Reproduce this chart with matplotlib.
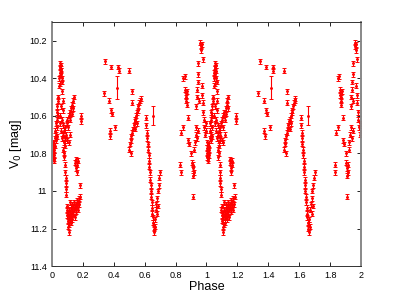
import matplotlib
matplotlib.use('Agg')
import matplotlib.pyplot as plt
from matplotlib.ticker import FuncFormatter

# one cycle of the light curve, plotted twice (phase and phase + 1)
phase = [
    0.002, 0.004, 0.006, 0.008, 0.010, 0.012, 0.014, 0.016, 0.018, 0.020, 0.005, 0.011,
    0.022, 0.025, 0.027, 0.030, 0.032, 0.034, 0.036, 0.038, 0.040, 0.042, 0.028, 0.035,
    0.046, 0.048, 0.050, 0.052, 0.054, 0.056, 0.058, 0.060, 0.062, 0.064, 0.066, 0.055, 0.068,
    0.050, 0.053, 0.057, 0.060, 0.063, 0.066, 0.069, 0.072, 0.075, 0.078, 0.070, 0.073,
    0.076, 0.079, 0.082, 0.085,
    0.086, 0.088, 0.089, 0.090, 0.091, 0.093,
    0.096, 0.098, 0.100, 0.102, 0.104, 0.106, 0.108, 0.110, 0.112, 0.114, 0.116, 0.118,
    0.120, 0.122, 0.124, 0.126, 0.128, 0.130, 0.133, 0.136, 0.139, 0.142, 0.145, 0.148,
    0.151, 0.154, 0.157, 0.160, 0.163, 0.166, 0.170, 0.173, 0.176, 0.180, 0.185,
    0.150, 0.154, 0.158, 0.162, 0.166, 0.160,
    0.080, 0.085, 0.090, 0.095, 0.100, 0.105, 0.110, 0.115, 0.120, 0.125, 0.130, 0.135,
    0.140, 0.138, 0.128, 0.118, 0.108, 0.098, 0.190, 0.190,
    0.336, 0.343, 0.370, 0.382, 0.385, 0.390, 0.375, 0.378, 0.410, 0.420, 0.430, 0.432,
    0.500, 0.520, 0.520,
    0.500, 0.505, 0.510, 0.515, 0.520, 0.525, 0.530, 0.535, 0.540, 0.545, 0.550, 0.555,
    0.560, 0.565, 0.570, 0.575, 0.548, 0.538, 0.512, 0.655,
    0.610, 0.612, 0.615, 0.618, 0.620, 0.622, 0.625, 0.628, 0.630, 0.633, 0.636, 0.638,
    0.640, 0.642, 0.645, 0.648, 0.650, 0.653, 0.656, 0.658, 0.660, 0.663, 0.665, 0.668,
    0.672, 0.676, 0.680, 0.685, 0.690, 0.695, 0.700, 0.688, 0.682,
    0.830, 0.832, 0.835, 0.850, 0.850, 0.860, 0.862, 0.865, 0.868, 0.870, 0.872, 0.875,
    0.880, 0.880, 0.890, 0.900, 0.905, 0.910, 0.912, 0.915, 0.918, 0.910, 0.920, 0.925,
    0.930, 0.935, 0.940, 0.945,
    0.932, 0.936, 0.940, 0.944, 0.948, 0.950, 0.945,
    0.960, 0.963, 0.966, 0.968,
    0.970, 0.972, 0.975, 0.978, 0.982, 0.986, 0.990, 0.994, 0.997, 0.975,
]
mag = [
    10.80, 10.77, 10.82, 10.75, 10.79, 10.84, 10.78, 10.81, 10.76, 10.72, 10.74, 10.83,
    10.68, 10.64, 10.70, 10.62, 10.58, 10.66, 10.55, 10.60, 10.52, 10.50, 10.73, 10.71,
    10.44, 10.40, 10.37, 10.34, 10.32, 10.35, 10.38, 10.33, 10.36, 10.40, 10.42, 10.43, 10.47,
    10.60, 10.64, 10.55, 10.68, 10.62, 10.72, 10.57, 10.65, 10.70, 10.74, 10.52, 10.78,
    10.82, 10.80, 10.76, 10.72,
    10.86, 10.90, 10.93, 10.96, 10.99, 11.02,
    11.10, 11.13, 11.08, 11.16, 11.12, 11.19, 11.22, 11.14, 11.18, 11.10, 11.06, 11.15,
    11.12, 11.17, 11.09, 11.13, 11.07, 11.11, 11.15, 11.08, 11.12, 11.06, 11.10, 11.14,
    11.09, 11.07, 11.11, 11.05, 11.08, 11.06, 11.10, 11.04, 11.07, 10.97, 11.03,
    10.85, 10.83, 10.88, 10.86, 10.84, 10.90,
    10.68, 10.66, 10.70, 10.64, 10.62, 10.66, 10.60, 10.58, 10.62, 10.56, 10.54, 10.52,
    10.50, 10.56, 10.59, 10.70, 10.74, 10.73, 10.60, 10.63,
    10.48, 10.31, 10.52, 10.34, 10.57, 10.59, 10.68, 10.71, 10.66, 10.45, 10.34, 10.36,
    10.36, 10.47, 10.53,
    10.78, 10.75, 10.73, 10.71, 10.69, 10.67, 10.65, 10.63, 10.62, 10.60, 10.58, 10.57,
    10.55, 10.53, 10.52, 10.51, 10.64, 10.67, 10.80, 10.60,
    10.61, 10.65, 10.69, 10.72, 10.75, 10.78, 10.81, 10.84, 10.87, 10.90, 10.94, 10.97,
    11.00, 11.03, 11.06, 11.09, 11.12, 11.14, 11.17, 11.20, 11.22, 11.18, 11.15, 11.19,
    11.10, 11.07, 11.04, 11.00, 10.97, 10.93, 10.90, 11.08, 11.12,
    10.86, 10.90, 10.69, 10.66, 10.40, 10.39, 10.46, 10.49, 10.52, 10.50, 10.54, 10.47,
    10.61, 10.73, 10.75, 10.80, 10.85, 10.88, 10.92, 10.86, 10.90, 11.03, 10.78, 10.74,
    10.70, 10.66, 10.72, 10.68,
    10.55, 10.50, 10.46, 10.42, 10.38, 10.52, 10.32,
    10.21, 10.23, 10.25, 10.22,
    10.44, 10.49, 10.53, 10.58, 10.62, 10.66, 10.70, 10.64, 10.68, 10.30,
]
err = [0.013] * len(mag)
# a couple of noisier measurements
err[phase.index(0.420)] = 0.06
err[phase.index(0.655)] = 0.05

xticks = [0, 0.2, 0.4, 0.6, 0.8, 1, 1.2, 1.4, 1.6, 1.8, 2]
yticks = [10.2, 10.4, 10.6, 10.8, 11, 11.2, 11.4]

plt.rcParams['font.family'] = ['Liberation Sans', 'DejaVu Sans']

fig = plt.figure(figsize=(3.99, 3.0), dpi=100)
ax = fig.add_axes([0.130, 0.113, 0.775, 0.814])

for shift in (0, 1):
    ax.errorbar([p + shift for p in phase], mag, yerr=err, fmt='.', color='red',
                ecolor='red', ms=2.2, elinewidth=0.8, capsize=1.4, capthick=0.7)

ax.set_xlim(0, 2)
ax.set_ylim(11.4, 10.1)
ax.set_xticks(xticks)
ax.set_yticks(yticks)
ax.xaxis.set_major_formatter(FuncFormatter(lambda v, pos: '%g' % v))
ax.yaxis.set_major_formatter(FuncFormatter(lambda v, pos: '%g' % v))
ax.tick_params(direction='in', top=True, right=True, labelsize=6.5, length=3, width=0.6)
for side in ('left', 'right'):
    ax.spines[side].set_color('#888888')
    ax.spines[side].set_linewidth(1.4)
for side in ('top', 'bottom'):
    ax.spines[side].set_color('#333333')
    ax.spines[side].set_linewidth(0.7)

ax.set_xlabel('Phase', fontsize=9, labelpad=1)
ax.set_ylabel('V$_0$ [mag]', fontsize=9, labelpad=4)

fig.savefig('out.png', dpi=100)
